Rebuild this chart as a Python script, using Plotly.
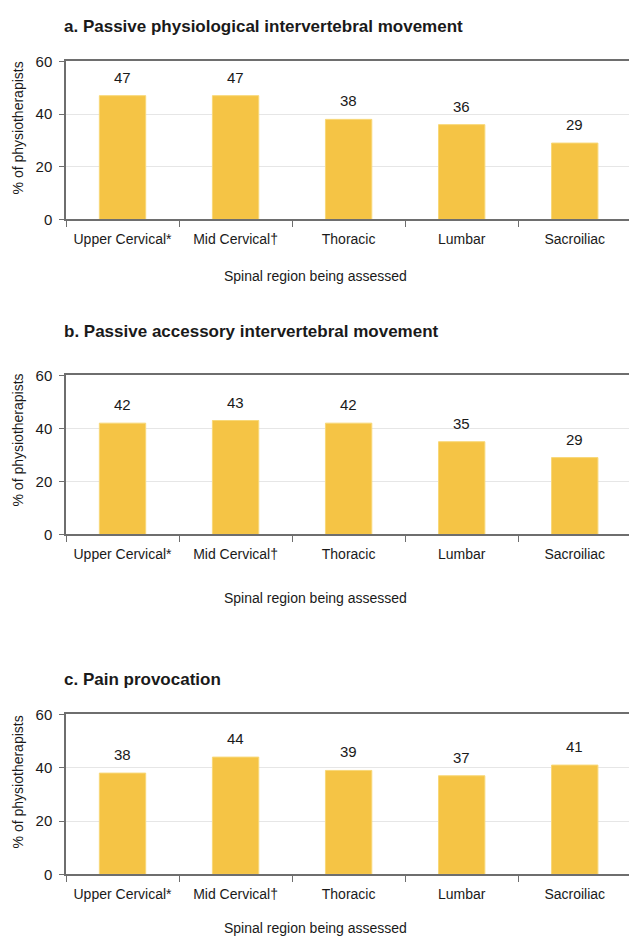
import plotly.graph_objects as go

# Spinal regions assessed and % of physiotherapists per technique
regions = ["Upper Cervical*", "Mid Cervical\u2020", "Thoracic", "Lumbar", "Sacroiliac"]
physiological = [47, 47, 38, 36, 29]
accessory = [42, 43, 42, 35, 29]
provocation = [38, 44, 39, 37, 41]

panel_titles = [
    "a. Passive physiological intervertebral movement",
    "b. Passive accessory intervertebral movement",
    "c. Pain provocation",
]
series = [physiological, accessory, provocation]
y_ticks = [0, 20, 40, 60]

W, H = 629, 942
FONT = "Liberation Sans, Arial, sans-serif"
BAR = "#F5C445"
TEXT = "#1a1a1a"

# layout in pixels from the top of the page, one entry per panel
plot_rows = [(53.4, 214.3), (373.2, 535.1), (718.4, 881.3)]
heading_y = [17.8, 328.4, 682.7]
xtitle_y = [272.4, 600.3, 936.0]
ytitle_y = [121.6, 439.4, 787.6]
left_px = 66


def fy(px):
    return 1 - px / H


fig = go.Figure()
annotations = []

for i, (vals, (top, bot)) in enumerate(zip(series, plot_rows)):
    xa = "x" if i == 0 else f"x{i + 1}"
    ya = "y" if i == 0 else f"y{i + 1}"
    fig.add_trace(go.Bar(
        x=regions, y=vals, xaxis=xa, yaxis=ya,
        marker=dict(color=BAR, line=dict(color="#F8D878", width=1)),
        width=0.41, showlegend=False, hoverinfo="x+y",
    ))
    for r, v in zip(regions, vals):
        annotations.append(dict(
            x=r, y=v, xref=xa, yref=ya, text=str(v), showarrow=False,
            yanchor="bottom", yshift=8,
            font=dict(family=FONT, size=15, color=TEXT),
        ))
    key = "" if i == 0 else str(i + 1)
    fig.update_layout(**{
        f"xaxis{key}": dict(
            domain=[left_px / W, 1], anchor=ya, type="category",
            range=[-0.5, 4.48], showline=True, linecolor="#6e6e6e", linewidth=1.5,
            mirror=True, ticks="outside", tickson="boundaries", ticklen=6,
            tickcolor="#6e6e6e", showgrid=False, tickangle=0,
            ticklabelstandoff=6,
            tickfont=dict(family=FONT, size=14, color=TEXT),
            fixedrange=True,
        ),
        f"yaxis{key}": dict(
            domain=[fy(bot), fy(top)], anchor=xa, range=[0, 60],
            tickvals=y_ticks, showline=True, linecolor="#6e6e6e", linewidth=1.5,
            ticks="outside", ticklen=5, tickcolor="#6e6e6e",
            ticklabelstandoff=4,
            showgrid=True, gridcolor="#e6e6e6", gridwidth=1, zeroline=False,
            tickfont=dict(family=FONT, size=15, color=TEXT),
            fixedrange=True,
        ),
    })
    # panel heading
    annotations.append(dict(
        x=62 / W, y=fy(heading_y[i]), xref="paper", yref="paper",
        xanchor="left", yanchor="middle", showarrow=False,
        text=f"<b>{panel_titles[i]}</b>",
        font=dict(family=FONT, size=17, color=TEXT),
    ))
    # axis titles
    annotations.append(dict(
        x=316 / W, y=fy(xtitle_y[i]), xref="paper", yref="paper",
        xanchor="center", yanchor="middle", showarrow=False,
        text="Spinal region being assessed",
        font=dict(family=FONT, size=14, color=TEXT),
    ))
    annotations.append(dict(
        x=18 / W, y=fy(ytitle_y[i]), xref="paper", yref="paper",
        xanchor="center", yanchor="middle", showarrow=False, textangle=-90,
        text="% of physiotherapists",
        font=dict(family=FONT, size=14, color=TEXT),
    ))

fig.update_layout(
    width=W, height=H, margin=dict(l=0, r=0, t=0, b=0),
    paper_bgcolor="white", plot_bgcolor="white",
    annotations=annotations, bargap=0.6,
)

fig.write_html("out.html", config={"displayModeBar": False})
